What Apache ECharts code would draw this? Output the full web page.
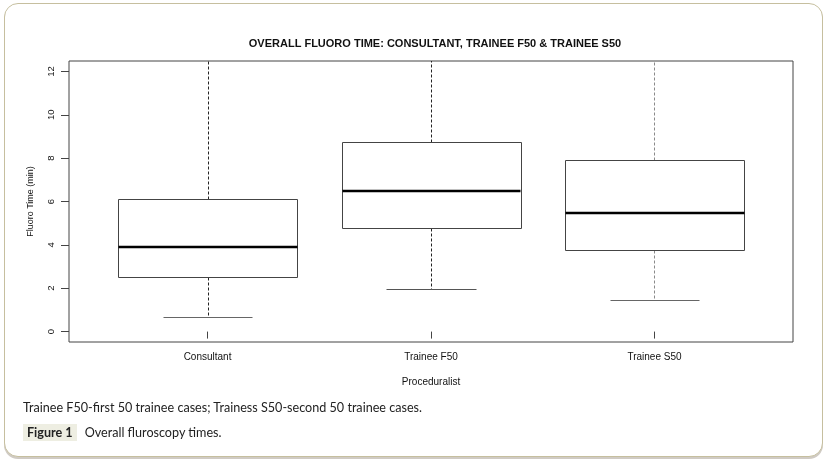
<!DOCTYPE html>
<html>
<head>
<meta charset="utf-8">
<script src="https://cdn.jsdelivr.net/npm/echarts@6/dist/echarts.min.js"></script>
<style>
  html, body { margin: 0; padding: 0; background: #ffffff; }
  #wrap { position: relative; width: 829px; height: 463px; overflow: hidden; }
  #card { position: absolute; left: 4px; top: 3px; width: 817px; height: 452px;
          border: 1.5px solid #c6bf9f; border-radius: 14px;
          box-shadow: 0 2px 0 #d0cbc4; background: #fff; }
  #chart { position: absolute; left: 0; top: 0; width: 829px; height: 463px; }
  #note { position: absolute; left: 23px; top: 400px; font-family: Lato, 'Open Sans', sans-serif;
          font-size: 12.6px; color: #222; white-space: nowrap; }
  #fig { position: absolute; left: 23px; top: 424px; height: 17px; font-family: Lato, 'Open Sans', sans-serif;
         font-size: 12.6px; color: #222; white-space: nowrap; line-height: 17px; }
  #fig b { display: inline-block; background: #eeeee2; padding: 0 4px; margin-right: 8px; font-weight: bold; }
</style>
</head>
<body>
<div id="wrap">
  <div id="card"></div>
  <div id="chart"></div>
  <div id="note">Trainee F50-first 50 trainee cases; Trainess S50-second 50 trainee cases.</div>
  <div id="fig"><b>Figure 1</b>Overall fluroscopy times.</div>
</div>
<script>
// ---- data ----
const categories   = ['Consultant', 'Trainee F50', 'Trainee S50'];
const lowerWhisker = [0.68, 1.98, 1.46];
const q1           = [2.50, 4.79, 3.78];
const median       = [3.90, 6.49, 5.48];
const q3           = [6.12, 8.75, 7.92];
const upperWhisker = [13.0, 13.0, 13.0];   // beyond the plotted range (clipped at top)
const yTicks       = [0, 2, 4, 6, 8, 10, 12];
const xTicks       = [1, 2, 3];

// ---- styles ----
const whiskerColors = ['#222', '#222', '#8a8a8a'];
const capColors     = ['#666', '#555', '#666'];
const FONT = "'Liberation Sans', Arial, sans-serif";

const seriesData = categories.map((c, i) => [i + 1, lowerWhisker[i], q1[i], median[i], q3[i], upperWhisker[i]]);

function renderItem(params, api) {
  const i = params.dataIndex;
  const x = api.value(0);
  const lo = api.value(1), a = api.value(2), m = api.value(3), b = api.value(4), hi = api.value(5);
  const boxHalf = 0.4, capHalf = 0.2;
  const tl = api.coord([x - boxHalf, b]);
  const br = api.coord([x + boxHalf, a]);
  const mL = api.coord([x - boxHalf, m]);
  const mR = api.coord([x + boxHalf, m]);
  const c = api.coord([x, 0]);
  const yHi = api.coord([x, hi])[1];
  const yLo = api.coord([x, lo])[1];
  const cL = api.coord([x - capHalf, lo])[0];
  const cR = api.coord([x + capHalf, lo])[0];
  const cx = Math.round(c[0]) + 0.5;
  const r = v => Math.round(v) + 0.5;
  return {
    type: 'group',
    children: [
      { type: 'line', shape: { x1: cx, y1: r(tl[1]), x2: cx, y2: yHi },
        style: { stroke: whiskerColors[i], lineWidth: 1, lineDash: [3, 2] } },
      { type: 'line', shape: { x1: cx, y1: r(br[1]), x2: cx, y2: r(yLo) },
        style: { stroke: whiskerColors[i], lineWidth: 1, lineDash: [3, 2] } },
      { type: 'line', shape: { x1: r(cL), y1: r(yLo), x2: r(cR), y2: r(yLo) },
        style: { stroke: capColors[i], lineWidth: 1.2 } },
      { type: 'line', shape: { x1: r(cL), y1: r(yHi), x2: r(cR), y2: r(yHi) },
        style: { stroke: capColors[i], lineWidth: 1.2 } },
      { type: 'rect', shape: { x: r(tl[0]), y: r(tl[1]), width: Math.round(br[0] - tl[0]), height: Math.round(br[1] - tl[1]) },
        style: { fill: '#ffffff', stroke: '#444', lineWidth: 1 } },
      { type: 'line', shape: { x1: r(mL[0]), y1: Math.round(mL[1]), x2: r(mR[0]), y2: Math.round(mR[1]) },
        style: { stroke: '#000', lineWidth: 2.6 } }
    ]
  };
}

const chart = echarts.init(document.getElementById('chart'), null, { renderer: 'canvas' });
chart.setOption({
  animation: false,
  backgroundColor: 'transparent',
  title: {
    text: 'OVERALL FLUORO TIME: CONSULTANT, TRAINEE F50 & TRAINEE S50',
    left: 430, top: 33, textAlign: 'center',
    textStyle: { fontFamily: FONT, fontSize: 11, fontWeight: 'bold', color: '#111' }
  },
  grid: { left: 69, right: 36, top: 61, bottom: 121, show: true, borderColor: '#444', borderWidth: 1, backgroundColor: 'transparent' },
  xAxis: {
    type: 'value', min: 0.38, max: 3.62,
    axisLine: { show: false },
    splitLine: { show: false },
    axisTick: { show: true, customValues: xTicks, length: 7, lineStyle: { color: '#444' } },
    axisLabel: { show: true, customValues: xTicks, margin: 10,
      formatter: v => categories[Math.round(v) - 1] || '',
      fontFamily: FONT, fontSize: 10, color: '#111' },
    name: 'Proceduralist', nameLocation: 'middle', nameGap: 35,
    nameTextStyle: { fontFamily: FONT, fontSize: 10, color: '#111' }
  },
  yAxis: {
    type: 'value', min: -0.48, max: 12.48,
    axisLine: { show: false },
    splitLine: { show: false },
    axisTick: { show: true, customValues: yTicks, length: 8, lineStyle: { color: '#444' } },
    axisLabel: { show: true, customValues: yTicks, rotate: 90, margin: 13,
      fontFamily: FONT, fontSize: 9.5, color: '#111' },
    name: 'Fluoro Time (min)', nameLocation: 'middle', nameGap: 34, nameRotate: 90,
    nameTextStyle: { fontFamily: FONT, fontSize: 9, color: '#111' }
  },
  series: [{
    type: 'custom',
    clip: true,
    renderItem: renderItem,
    encode: { x: 0, y: [1, 2, 3, 4, 5] },
    data: seriesData
  }]
});
</script>
</body>
</html>
